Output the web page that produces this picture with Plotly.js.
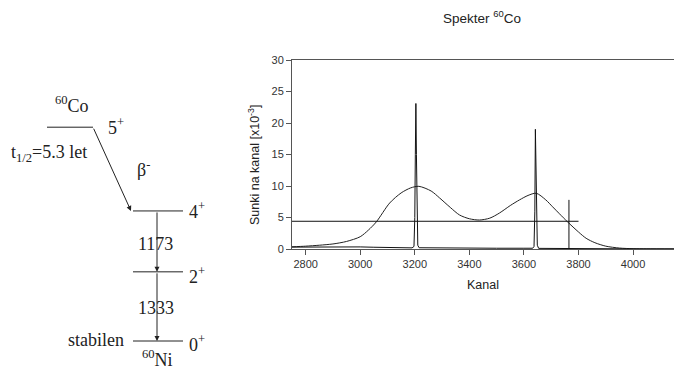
<!DOCTYPE html>
<html>
<head>
<meta charset="utf-8">
<script src="https://cdn.plot.ly/plotly-3.0.1.min.js"></script>
<style>html,body{margin:0;padding:0;background:#fff}#chart{width:674px;height:372px}</style>
</head>
<body>
<div id="chart"></div>
<script>
// ---- Spectrum data (channel, counts x10^-3) ----
const measChannel = [2750, 2800, 2900, 3000, 3050, 3100, 3150, 3190, 3197, 3200, 3202, 3204, 3206, 3208, 3211, 3216, 3300, 3400, 3500, 3600, 3632, 3637, 3640, 3642, 3644, 3646, 3649, 3654, 3700, 3800, 3900, 4000, 4150];
const measCounts  = [0.30, 0.32, 0.35, 0.33, 0.28, 0.22, 0.18, 0.18, 0.4, 5.0, 15.0, 23.1, 15.0, 5.0, 0.6, 0.2, 0.15, 0.12, 0.12, 0.12, 0.12, 0.4, 6.0, 19.0, 12.0, 4.0, 0.6, 0.1, 0.08, 0.05, 0.03, 0.02, 0.02];

const smearChannel = [2750, 2800, 2850, 2900, 2950, 3000, 3030, 3059, 3108, 3150, 3185, 3215, 3260, 3291, 3330, 3364, 3400, 3437, 3475, 3510, 3550, 3584, 3615, 3645, 3680, 3705, 3730, 3760, 3800, 3828, 3860, 3900, 3950, 4000, 4050, 4150];
const smearCounts  = [0.35, 0.45, 0.6, 0.8, 1.2, 1.95, 3.0, 4.3, 7.3, 8.9, 9.7, 9.95, 9.2, 8.1, 6.6, 5.4, 4.8, 4.6, 4.9, 5.7, 6.9, 7.8, 8.5, 8.85, 7.8, 6.7, 5.6, 4.3, 2.7, 1.7, 1.0, 0.45, 0.15, 0.05, 0.02, 0.0];

// FWHM markers
const halfMax = 4.4;
const halfMaxSpan = [2750, 3800];
const markerChannel = 3765;
const markerSpan = [-1.3, 7.8];

// ---- Decay scheme (60Co -> 60Ni) ----
const levelSpins = ['5<sup>+</sup>', '4<sup>+</sup>', '2<sup>+</sup>', '0<sup>+</sup>'];
const levelDrawE = [4120, 2506, 1333, 0];   // drawn heights (keV scale; parent drawn schematically)
const gammaE = ['1173', '1333'];

const xTicks = [2800, 3000, 3200, 3400, 3600, 3800, 4000];
const yTicks = [0, 5, 10, 15, 20, 25, 30];

const W = 674, H = 372;
const px = v => v / W;

const traces = [
  {x: smearChannel, y: smearCounts, type: 'scatter', mode: 'lines',
   line: {color: '#222', width: 1, shape: 'spline', smoothing: 0.8}, xaxis: 'x', yaxis: 'y', hoverinfo: 'skip'},
  {x: measChannel, y: measCounts, type: 'scatter', mode: 'lines',
   line: {color: '#111', width: 1}, xaxis: 'x', yaxis: 'y', hoverinfo: 'skip'}
];

const axLine = '#555';
const dl = {color: '#222', width: 1};
const shapes = [
  {type: 'line', xref: 'x', yref: 'y', x0: halfMaxSpan[0], x1: halfMaxSpan[1], y0: halfMax, y1: halfMax, line: {color: '#111', width: 1}},
  {type: 'line', xref: 'x', yref: 'y', x0: markerChannel, x1: markerChannel, y0: markerSpan[0], y1: markerSpan[1], line: {color: '#111', width: 1}},
  // decay scheme level lines
  {type: 'line', xref: 'x2', yref: 'y2', x0: 47, x1: 93, y0: levelDrawE[0], y1: levelDrawE[0], line: dl},
  {type: 'line', xref: 'x2', yref: 'y2', x0: 133, x1: 183, y0: levelDrawE[1], y1: levelDrawE[1], line: dl},
  {type: 'line', xref: 'x2', yref: 'y2', x0: 133, x1: 183, y0: levelDrawE[2], y1: levelDrawE[2], line: dl},
  {type: 'line', xref: 'x2', yref: 'y2', x0: 133, x1: 183, y0: levelDrawE[3], y1: levelDrawE[3], line: dl}
];

const serif = {family: 'Liberation Serif, Times New Roman, serif', size: 18, color: '#222'};
const sansT = {family: 'Liberation Sans, Arial, sans-serif', size: 12.5, color: '#222'};
const annotations = [
  {xref: 'paper', yref: 'paper', x: px(482), y: 1 - 17 / H, text: 'Spekter <sup>60</sup>Co', showarrow: false,
   font: {family: 'Liberation Sans, Arial, sans-serif', size: 13.5, color: '#222'}, xanchor: 'center', yanchor: 'middle'},
  {xref: 'paper', yref: 'paper', x: px(254), y: 1 - 165 / H, text: 'Sunki na kanal [x10<sup>-3</sup>]', showarrow: false,
   textangle: -90, font: sansT, xanchor: 'center', yanchor: 'middle'},
  // arrows
  {xref: 'x2', yref: 'y2', axref: 'x2', ayref: 'y2', x: 131, y: levelDrawE[1], ax: 93, ay: levelDrawE[0], text: '',
   showarrow: true, arrowhead: 2, arrowsize: 1, arrowwidth: 1, arrowcolor: '#222', standoff: 0, startstandoff: 0},
  {xref: 'x2', yref: 'y2', axref: 'x2', ayref: 'y2', x: 157, y: levelDrawE[2], ax: 157, ay: levelDrawE[1], text: '',
   showarrow: true, arrowhead: 2, arrowsize: 1, arrowwidth: 1, arrowcolor: '#222', standoff: 0},
  {xref: 'x2', yref: 'y2', axref: 'x2', ayref: 'y2', x: 157, y: levelDrawE[3], ax: 157, ay: levelDrawE[2], text: '',
   showarrow: true, arrowhead: 2, arrowsize: 1, arrowwidth: 1, arrowcolor: '#222', standoff: 0},
  // labels
  {xref: 'x2', yref: 'y2', x: 72, y: levelDrawE[0] + 440, text: '<sup>60</sup>Co', showarrow: false, font: serif},
  {xref: 'x2', yref: 'y2', x: 106, y: levelDrawE[0] + 20, text: levelSpins[0], showarrow: false, font: serif, xanchor: 'left'},
  {xref: 'x2', yref: 'y2', x: 9, y: levelDrawE[0] - 500, text: 't<sub>1/2</sub>=5.3 let', showarrow: false, font: serif, xanchor: 'left'},
  {xref: 'x2', yref: 'y2', x: 135, y: levelDrawE[0] - 790, text: 'β<sup>-</sup>', showarrow: false, font: serif, xanchor: 'left'},
  {xref: 'x2', yref: 'y2', x: 187, y: levelDrawE[1], text: levelSpins[1], showarrow: false, font: serif, xanchor: 'left'},
  {xref: 'x2', yref: 'y2', x: 187, y: levelDrawE[2] - 80, text: levelSpins[2], showarrow: false, font: serif, xanchor: 'left'},
  {xref: 'x2', yref: 'y2', x: 187, y: levelDrawE[3] - 40, text: levelSpins[3], showarrow: false, font: serif, xanchor: 'left'},
  {xref: 'x2', yref: 'y2', x: 155.5, y: (levelDrawE[1] + levelDrawE[2]) / 2 - 50, text: gammaE[0], showarrow: false, font: serif},
  {xref: 'x2', yref: 'y2', x: 155.5, y: (levelDrawE[2] + levelDrawE[3]) / 2 - 30, text: gammaE[1], showarrow: false, font: serif},
  {xref: 'x2', yref: 'y2', x: 126, y: levelDrawE[3] + 20, text: 'stabilen', showarrow: false, font: serif, xanchor: 'right'},
  {xref: 'x2', yref: 'y2', x: 157, y: levelDrawE[3] - 330, text: '<sup>60</sup>Ni', showarrow: false, font: serif}
];

const sans = {family: 'Liberation Sans, Arial, sans-serif', size: 11, color: '#333'};
const layout = {
  width: W, height: H,
  margin: {l: 0, r: 0, t: 0, b: 0},
  paper_bgcolor: '#fff', plot_bgcolor: '#fff',
  showlegend: false,
  font: sans,
  xaxis: {domain: [px(292), 1], range: [2750, 4150], tickvals: xTicks, ticks: 'outside', ticklen: 5, tickcolor: axLine,
          showline: true, linecolor: axLine, linewidth: 1, mirror: true, showgrid: false, zeroline: false,
          tickfont: sans, title: {text: 'Kanal', font: sansT, standoff: 11}, anchor: 'y'},
  yaxis: {domain: [1 - 249 / H, 1 - 60 / H], range: [0, 30], tickvals: yTicks, ticks: 'outside', ticklen: 5, tickcolor: axLine,
          showline: true, linecolor: axLine, linewidth: 1, showgrid: false, zeroline: false, tickfont: sans, anchor: 'x'},
  xaxis2: {domain: [0, 0.4], range: [0, 0.4 * W], visible: false, anchor: 'y2', fixedrange: true},
  yaxis2: {domain: [0, 1], range: [-31 * 19.27, 341 * 19.27], visible: false, anchor: 'x2', fixedrange: true},
  shapes: shapes,
  annotations: annotations
};

Plotly.newPlot('chart', traces, layout, {staticPlot: true, displayModeBar: false});
</script>
</body>
</html>
